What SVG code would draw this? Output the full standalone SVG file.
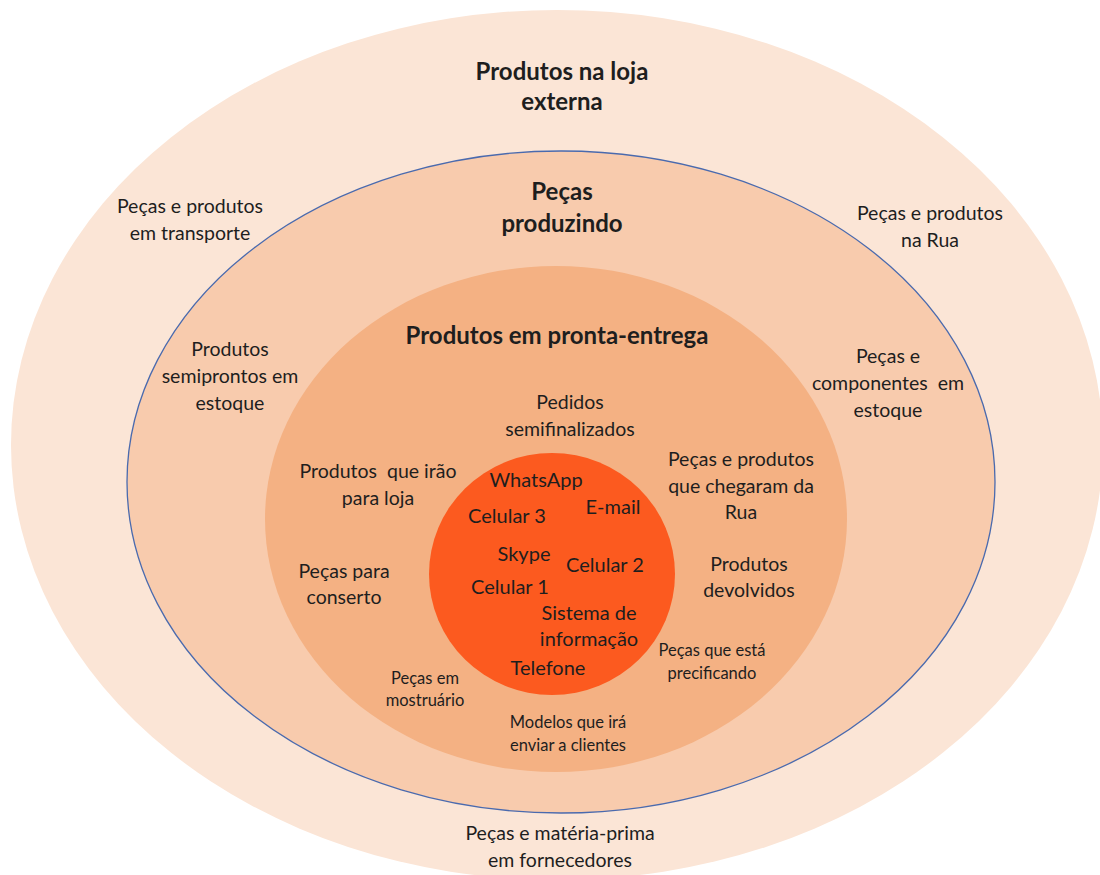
<svg xmlns="http://www.w3.org/2000/svg" width="1100" height="875" viewBox="0 0 1100 875">
  <style>
    text { font-family: Lato, "Open Sans", "Liberation Sans", sans-serif; fill: #1e1e1e; text-anchor: middle; }
    .t { font-size: 19.5px; }
    .s { font-size: 16.5px; }
    .c { font-size: 20px; }
    .h { font-size: 24px; font-weight: bold; }
    .pre { white-space: pre; }
  </style>
  <rect width="1100" height="875" fill="#ffffff"/>

  <!-- Ring 1: external store -->
  <g id="ring-loja-externa">
    <ellipse cx="557" cy="445" rx="546" ry="435" fill="#FBE5D6"/>
    <text class="h" x="562" y="80">Produtos na loja</text>
    <text class="h" x="562" y="110">externa</text>
    <text class="t" x="190" y="213">Peças e produtos</text>
    <text class="t" x="190" y="240">em transporte</text>
    <text class="t" x="930" y="220">Peças e produtos</text>
    <text class="t" x="930" y="247">na Rua</text>
    <text class="t" x="560" y="840">Peças e matéria-prima</text>
    <text class="t" x="560" y="867">em fornecedores</text>
  </g>

  <!-- Ring 2: parts in production -->
  <g id="ring-producao">
    <ellipse cx="561" cy="482" rx="434" ry="331" fill="#F8CBAD" stroke="#4A6AAE" stroke-width="1.3"/>
    <text class="h" x="562" y="200">Peças</text>
    <text class="h" x="562" y="232">produzindo</text>
    <text class="t" x="230" y="356">Produtos</text>
    <text class="t" x="230" y="383">semiprontos em</text>
    <text class="t" x="230" y="410">estoque</text>
    <text class="t" x="888" y="363">Peças e</text>
    <text class="t pre" x="888" y="390">componentes  em</text>
    <text class="t" x="888" y="417">estoque</text>
  </g>

  <!-- Ring 3: ready-to-deliver products -->
  <g id="ring-pronta-entrega">
    <ellipse cx="556" cy="519" rx="291" ry="253" fill="#F4B183"/>
    <text class="h" x="557" y="344">Produtos em pronta-entrega</text>
    <text class="t" x="570" y="409">Pedidos</text>
    <text class="t" x="570" y="436">semifinalizados</text>
    <text class="t pre" x="378" y="478">Produtos  que irão</text>
    <text class="t" x="378" y="505">para loja</text>
    <text class="t" x="741" y="466">Peças e produtos</text>
    <text class="t" x="741" y="493">que chegaram da</text>
    <text class="t" x="741" y="519">Rua</text>
    <text class="t" x="344" y="578">Peças para</text>
    <text class="t" x="344" y="604">conserto</text>
    <text class="t" x="749" y="571">Produtos</text>
    <text class="t" x="749" y="597">devolvidos</text>
    <text class="s" x="712" y="656">Peças que está</text>
    <text class="s" x="712" y="679">precificando</text>
    <text class="s" x="425" y="684">Peças em</text>
    <text class="s" x="425" y="706">mostruário</text>
    <text class="s" x="568" y="728">Modelos que irá</text>
    <text class="s" x="568" y="751">enviar a clientes</text>
  </g>

  <!-- Core: communication channels -->
  <g id="core-canais">
    <ellipse cx="552" cy="574" rx="123" ry="121" fill="#FC5A1F"/>
    <text class="c" x="536" y="487">WhatsApp</text>
    <text class="c" x="613" y="514">E-mail</text>
    <text class="c" x="507" y="523">Celular 3</text>
    <text class="c" x="524" y="561">Skype</text>
    <text class="c" x="605" y="572">Celular 2</text>
    <text class="c" x="510" y="594">Celular 1</text>
    <text class="c" x="589" y="620">Sistema de</text>
    <text class="c" x="589" y="646">informação</text>
    <text class="c" x="548" y="675">Telefone</text>
  </g>

  <g id="connectors"/>
</svg>
